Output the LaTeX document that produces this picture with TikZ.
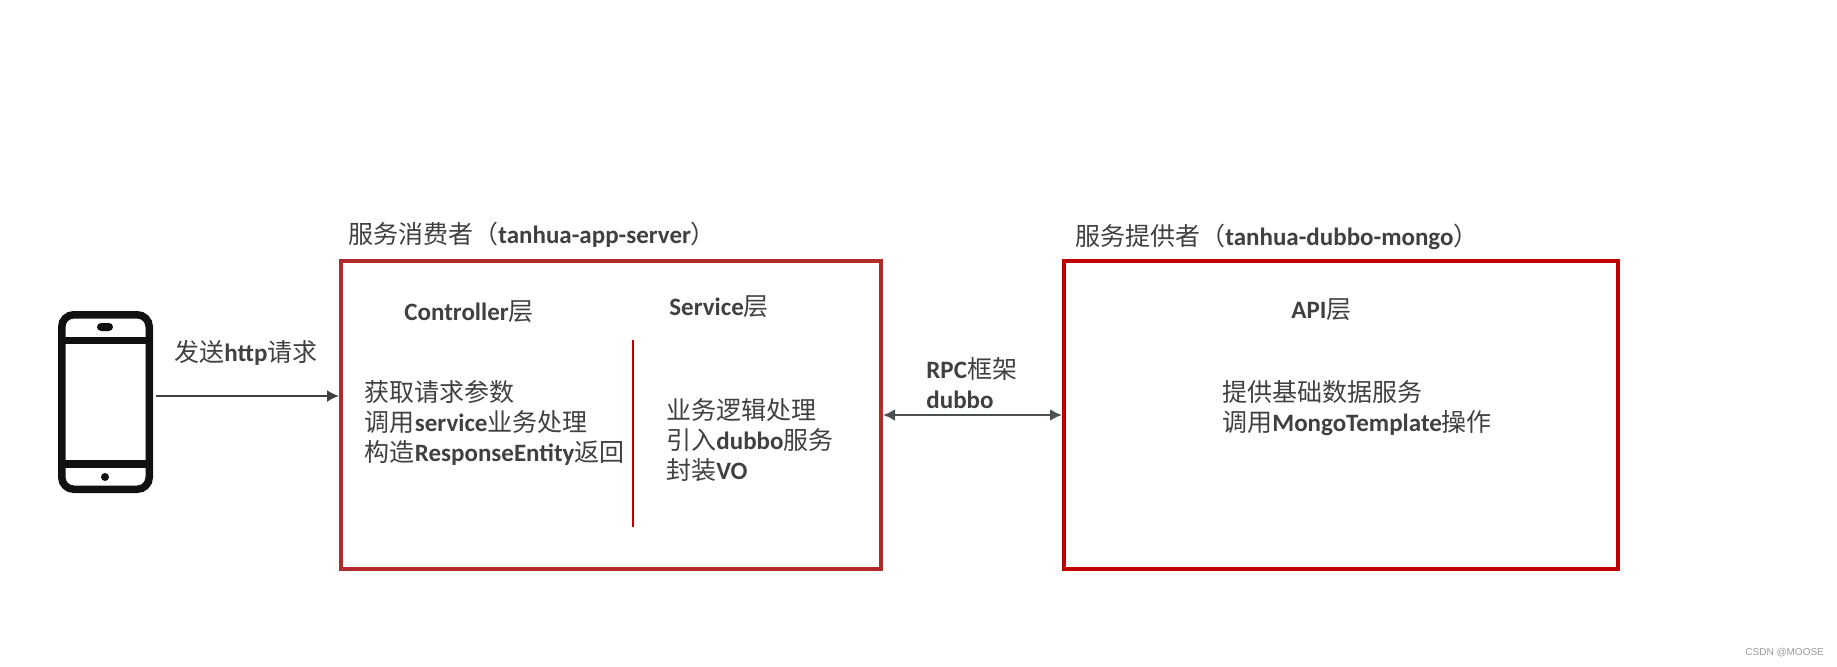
\documentclass[tikz,border=0pt]{standalone}
\usepackage{fontspec}
\setmainfont{Carlito}
\newfontfamily\cjk{Noto Sans CJK SC}
\newfontfamily\wmfont{Liberation Sans}
\usepackage{xcolor}
\usepackage{tikz}
\usetikzlibrary{arrows.meta}

\definecolor{txtgray}{HTML}{404040}
\definecolor{consred}{HTML}{B22A2A}
\definecolor{provred}{HTML}{C00000}
\definecolor{rpcgray}{HTML}{4B5150}
\definecolor{phoneblack}{HTML}{111111}
\newcommand{\zh}[1]{{\cjk\mdseries #1}}

\begin{document}
\begin{tikzpicture}[x=0.5pt, y=-0.5pt,
  txt/.style={anchor=west, inner sep=0pt, text=txtgray, align=left,
    font=\fontsize{12.5}{15}\selectfont\bfseries},
  layerbox/.style={draw, line width=2pt, minimum width=270pt,
    minimum height=154pt, inner sep=0pt},
  >={Latex[length=6pt,width=6pt]}]

\useasboundingbox (0,0) rectangle (1837,666);

% 手机
\node (phone) [draw=phoneblack, line width=3.75pt, rounded corners=6pt,
  minimum width=43.75pt, minimum height=87.25pt] at (105.5,402) {};
\draw[phoneblack, line width=3.5pt] (phone.west |- 0,340) -- (phone.east |- 0,340);
\draw[phoneblack, line width=3.75pt] (phone.west |- 0,464) -- (phone.east |- 0,464);
\fill[phoneblack, rounded corners=2pt] (97,323) rectangle (113,331);
\fill[phoneblack] (105,477) circle (2pt);

% 服务消费者
\node (consumer) [layerbox, draw=consred] at (611,415) {};
\node (constitle) [txt] at (348,235) {\zh{服务消费者（}tanhua-app-server\zh{）}};
\node (ctrl) [txt] at (404,312) {Controller\zh{层}};
\node (svc) [txt] at (669,307) {Service\zh{层}};
\draw[provred, line width=1pt] (633,340) -- (633,527);
\node (ctrltxt) [txt] at (364.5,423)
  {\zh{获取请求参数}\\\zh{调用}service\zh{业务处理}\\\zh{构造}ResponseEntity\zh{返回}};
\node (svctxt) [txt] at (666,440)
  {\zh{业务逻辑处理}\\\zh{引入}dubbo\zh{服务}\\\zh{封装}VO};

% 服务提供者
\node (provider) [layerbox, draw=provred, minimum width=277pt] at (1341,415) {};
\node (provtitle) [txt] at (1075,237) {\zh{服务提供者（}tanhua-dubbo-mongo\zh{）}};
\node (api) [txt] at (1291,310) {API\zh{层}};
\node (apitxt) [txt] at (1222,408)
  {\zh{提供基础数据服务}\\\zh{调用}MongoTemplate\zh{操作}};

% 箭头
\coordinate (httpstart) at ([yshift=3pt]phone.east);
\draw[->, txtgray, line width=1pt, shorten <=1.5pt] (httpstart) -- (httpstart -| consumer.west);
\node (http) [txt] at (174,353) {\zh{发送}http\zh{请求}};
\draw[<->, rpcgray, line width=1.35pt] (consumer.east) -- (provider.west);
\node (rpc) [txt] at (926,383) {RPC\zh{框架}\\dubbo};

\node (mark) [anchor=west, inner sep=0pt, text=black!40,
  font=\wmfont\fontsize{5}{6}\selectfont] at (1745,653) {CSDN @MOOSE};

\end{tikzpicture}
\end{document}
